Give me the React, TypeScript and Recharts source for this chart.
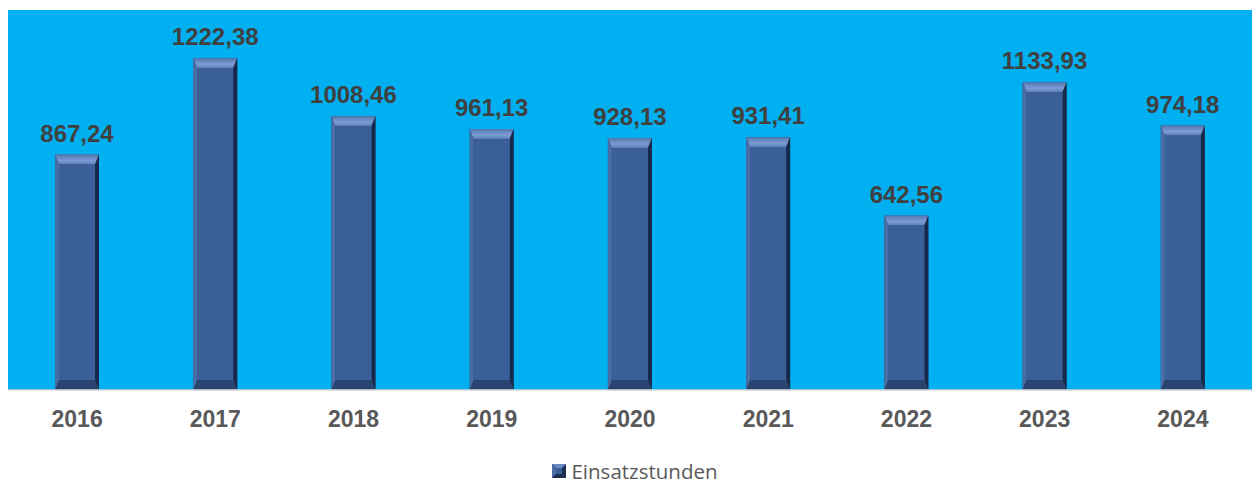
import React from 'react';
import { BarChart, Bar, XAxis, YAxis, CartesianGrid, LabelList, Legend } from 'recharts';

const years = ['2016', '2017', '2018', '2019', '2020', '2021', '2022', '2023', '2024'];
const einsatzstunden = [867.24, 1222.38, 1008.46, 961.13, 928.13, 931.41, 642.56, 1133.93, 974.18];

const data = years.map((year, i) => ({ year, einsatzstunden: einsatzstunden[i] }));

const fmt = (v: number) => v.toFixed(2).replace('.', ',');

function BevelBar(props: any) {
  const { x, y, width, height } = props;
  if (!height || height <= 0) return null;
  const b = 10;
  const s = 4;
  return (
    <g>
      <defs>
        <linearGradient id="bevelTop" x1="0" y1="0" x2="0" y2="1">
          <stop offset="0%" stopColor="#5577B0" />
          <stop offset="60%" stopColor="#7C9DD3" />
          <stop offset="100%" stopColor="#5A7DB6" />
        </linearGradient>
      </defs>
      <rect x={x} y={y} width={width} height={height} fill="#2E4C7C" />
      <polygon
        points={`${x},${y} ${x + width},${y} ${x + width - s},${y + b} ${x + s},${y + b}`}
        fill="url(#bevelTop)"
      />
      <polygon
        points={`${x},${y} ${x + s},${y + b} ${x + s},${y + height - b} ${x},${y + height}`}
        fill="#4A6DA6"
      />
      <polygon
        points={`${x + width},${y} ${x + width},${y + height} ${x + width - s},${y + height - b} ${x + width - s},${y + b}`}
        fill="#17294A"
      />
      <polygon
        points={`${x},${y + height} ${x + width},${y + height} ${x + width - s},${y + height - b} ${x + s},${y + height - b}`}
        fill="#2A4470"
      />
      <rect x={x + s} y={y + b} width={width - 2 * s} height={Math.max(0, height - 2 * b)} fill="#3B5F98" />
    </g>
  );
}

function LegendIcon() {
  return (
    <svg width={14} height={14} style={{ verticalAlign: 'middle', marginRight: 5 }}>
      <rect x={0} y={0} width={14} height={14} fill="#1B2E4E" />
      <polygon points="0,0 14,0 10,4 4,4" fill="#6A8CC4" />
      <polygon points="0,0 4,4 4,10 0,14" fill="#4A6DA6" />
      <rect x={4} y={4} width={6} height={6} fill="#3B5F98" />
    </svg>
  );
}

export default function App() {
  return (
    <div style={{ position: 'absolute', left: 0, top: 0, width: 1252, height: 484 }}>
      <BarChart
        width={1252}
        height={484}
        data={data}
        margin={{ top: 10, right: 0, bottom: 0, left: 8 }}
        barSize={44}
      >
        <CartesianGrid fill="#00B0F0" stroke="none" horizontal={false} vertical={false} />
        <XAxis
          dataKey="year"
          axisLine={{ stroke: '#D9D9D9', strokeWidth: 1.5 }}
          tickLine={false}
          height={62}
          tick={{ fill: '#595959', fontSize: 23, fontWeight: 'bold', fontFamily: 'Liberation Sans, Arial, sans-serif' }}
          dy={13}
        />
        <YAxis hide domain={[0, 1400]} />
        <Legend
          verticalAlign="bottom"
          height={32}
          content={() => (
            <div
              style={{
                textAlign: 'center',
                fontFamily: 'Open Sans, sans-serif',
                fontSize: 20.5,
                color: '#595959',
                lineHeight: '24px',
                paddingTop: 4,
                paddingLeft: 10,
              }}
            >
              <LegendIcon />
              <span style={{ verticalAlign: 'middle' }}>Einsatzstunden</span>
            </div>
          )}
        />
        <Bar dataKey="einsatzstunden" shape={<BevelBar />} isAnimationActive={false}>
          <LabelList
            dataKey="einsatzstunden"
            position="top"
            offset={13}
            formatter={(v: any) => fmt(Number(v))}
            style={{ fill: '#404040', fontSize: 24, fontWeight: 'bold', fontFamily: 'Liberation Sans, Arial, sans-serif' }}
          />
        </Bar>
      </BarChart>
    </div>
  );
}
